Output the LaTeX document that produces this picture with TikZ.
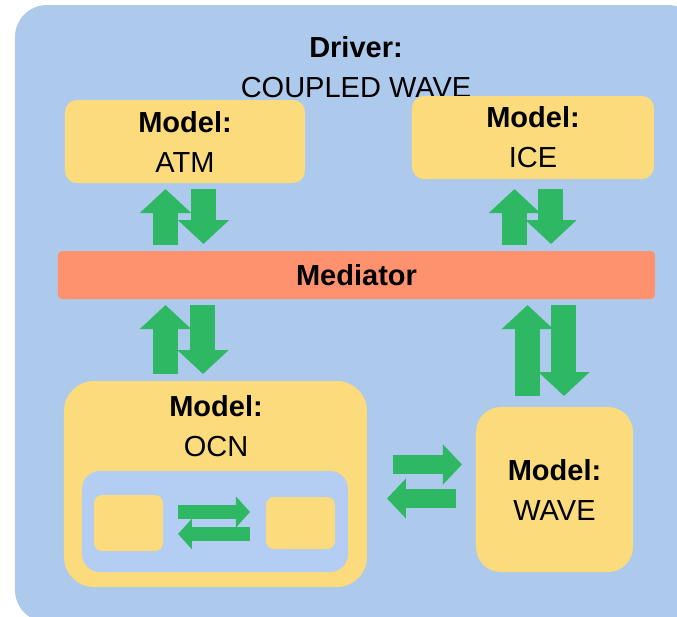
\documentclass[tikz,border=0pt]{standalone}
\usepackage{fontspec}
\setmainfont{Liberation Sans}
\usetikzlibrary{arrows.meta}

\definecolor{driverblue}{RGB}{173,201,235}
\definecolor{innerblue}{RGB}{180,205,243}
\definecolor{modelyellow}{RGB}{252,219,125}
\definecolor{medorange}{RGB}{255,146,110}
\definecolor{flowgreen}{RGB}{47,184,100}

\begin{document}
\begin{tikzpicture}[
    x=0.5pt, y=-0.5pt,
    txt/.style={
        font=\fontsize{14.5}{20}\selectfont,
        align=center
    },
    model/.style={
        txt,
        rectangle,
        fill=modelyellow,
        inner sep=0pt,
        outer sep=0pt
    },
    fatflow/.style={
        flowgreen,
        line width=12.5pt,
        -{Triangle[width=25pt,length=12pt]}
    },
    midflow/.style={
        flowgreen,
        line width=9.5pt,
        -{Triangle[width=19.5pt,length=9.5pt]}
    },
    smallflow/.style={
        flowgreen,
        line width=7pt,
        -{Triangle[width=15pt,length=7pt]}
    }
]

\useasboundingbox (0,0) rectangle (677,617);
\clip (0,0) rectangle (677,617);

% Driver
\fill[driverblue, rounded corners=16pt] (15,5) rectangle (700,622);
\node[txt] (driver) at (356,67) {\textbf{Driver:}\\COUPLED WAVE};

% Models
\node[model, rounded corners=6pt, minimum width=120pt, minimum height=41.5pt]
    (atm) at (185,141.5) {\textbf{Model:}\\ATM};
\node[model, rounded corners=6pt, minimum width=121pt, minimum height=41.5pt]
    (ice) at (533,137.5) {\textbf{Model:}\\ICE};
\node[model, rounded corners=15pt, minimum width=151.5pt, minimum height=103pt]
    (ocn) at (215.5,484) {};
\node[txt] (ocnlabel) at (216,426) {\textbf{Model:}\\OCN};
\node[model, rounded corners=12.5pt, minimum width=78.5pt, minimum height=82.5pt]
    (wave) at (554.5,489.5) {\textbf{Model:}\\WAVE};

% Mediator
\node[model, fill=medorange, rounded corners=2pt, minimum width=298.5pt, minimum height=24pt]
    (med) at (356.5,275) {\textbf{Mediator}};

% Inside OCN
\node[model, fill=innerblue, rounded corners=9pt, minimum width=133pt, minimum height=50.5pt]
    (ocnin) at (215,521.5) {};
\node[model, rounded corners=4pt, minimum width=34.5pt, minimum height=28pt]
    (compa) at (128.5,523) {};
\node[model, rounded corners=4pt, minimum width=34.5pt, minimum height=26pt]
    (compb) at (300.5,523) {};

% Verbindingen
\draw[fatflow, shorten <=3pt, shorten >=3pt] (med.north -| 165.5,0) -- (atm.south -| 165.5,0);
\draw[fatflow, shorten <=3pt, shorten >=3.5pt] (atm.south -| 203.5,0) -- (med.north -| 203.5,0);

\draw[fatflow, shorten <=3pt, shorten >=5pt] (med.north -| 514.5,0) -- (ice.south -| 514.5,0);
\draw[fatflow, shorten <=5pt, shorten >=3.5pt] (ice.south -| 551,0) -- (med.north -| 551,0);

\draw[fatflow, shorten <=3.5pt, shorten >=3pt] (ocn.north -| 165.5,0) -- (med.south -| 165.5,0);
\draw[fatflow, shorten <=3pt, shorten >=3.5pt] (med.south -| 203,0) -- (ocn.north -| 203,0);

\draw[fatflow, shorten <=5.5pt, shorten >=3pt] (wave.north -| 527.5,0) -- (med.south -| 527.5,0);
\draw[fatflow, shorten <=3pt, shorten >=5.5pt] (med.south -| 564,0) -- (wave.north -| 564,0);

\draw[midflow, shorten <=13pt, shorten >=7pt] (ocn.east |- 0,464.5) -- (wave.west |- 0,464.5);
\draw[midflow, shorten <=10pt, shorten >=10pt] (wave.west |- 0,498.5) -- (ocn.east |- 0,498.5);

\draw[smallflow, shorten <=7.5pt, shorten >=8pt] (compa.east |- 0,512) -- (compb.west |- 0,512);
\draw[smallflow, shorten <=8pt, shorten >=7.5pt] (compb.west |- 0,534) -- (compa.east |- 0,534);

\end{tikzpicture}
\end{document}
